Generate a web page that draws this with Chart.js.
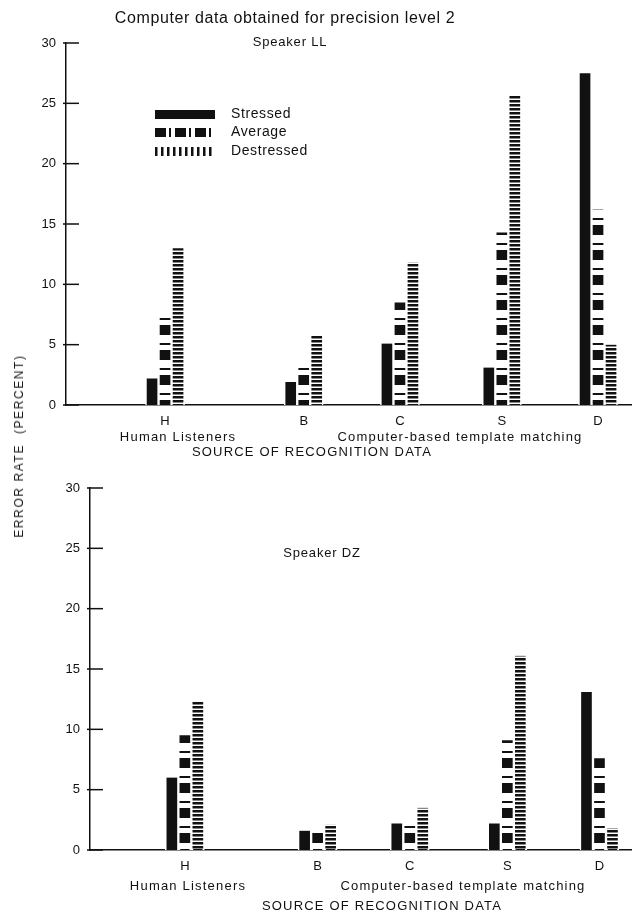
<!DOCTYPE html>
<html>
<head>
<meta charset="utf-8">
<script src="https://cdn.jsdelivr.net/npm/chart.js@4.4.1/dist/chart.umd.min.js"></script>
<style>
  html, body { margin: 0; padding: 0; background: #fff; }
  #page { position: relative; width: 632px; height: 916px; overflow: hidden; }
  .panel { position: absolute; left: 0; width: 632px; height: 458px; }
  #top { top: 0; }
  #bottom { top: 458px; }
  #ylabel {
    position: absolute; left: 19px; top: 446px;
    transform: translate(-50%, -50%) rotate(-90deg);
    font: 12px "Liberation Sans", Arial, sans-serif;
    letter-spacing: 1.6px; color: #1a1a1a; white-space: nowrap;
  }
</style>
</head>
<body>
<div id="page">
  <div class="panel" id="top"><canvas id="chartLL" width="632" height="458"></canvas></div>
  <div class="panel" id="bottom"><canvas id="chartDZ" width="632" height="458"></canvas></div>
  <div id="ylabel">ERROR RATE &nbsp;(PERCENT)</div>
</div>
<script>
// recognition data sources, and where they sit along the x axis (0-100)
var groups = ["H", "B", "C", "S", "D"];
var groupPos = [17.5, 42, 59, 77, 94];
var seriesNames = ["Stressed", "Average", "Destressed"];
var yTicks = [0, 5, 10, 15, 20, 25, 30];

// Speaker LL
var llStressed = [2.2, 1.9, 5.1, 3.1, 27.5];
var llAverage = [7.8, 3.6, 8.5, 14.3, 16.2];
var llDestressed = [13.0, 5.8, 11.8, 25.6, 5.0];

// Speaker DZ
var dzStressed = [6.0, 1.6, 2.2, 2.2, 13.1];
var dzAverage = [9.5, 1.8, 2.4, 9.1, 7.6];
var dzDestressed = [12.3, 2.1, 3.5, 16.1, 1.8];

var ink = "#111";
var font = "'Liberation Sans', Arial, sans-serif";

function tile(w, h, paint) {
  var c = document.createElement("canvas");
  c.width = w; c.height = h;
  var g = c.getContext("2d");
  g.fillStyle = ink;
  paint(g, w, h);
  return c;
}

// bar fills
var scratch = document.createElement("canvas").getContext("2d");
var averageFill = scratch.createPattern(tile(4, 25, function(g) {
  g.fillRect(0, 0, 4, 10);
  g.fillRect(0, 18, 4, 2);
}), "repeat");
var destressedFill = scratch.createPattern(tile(4, 4, function(g) {
  g.fillRect(0, 0, 4, 2.5);
}), "repeat");
var fills = [ink, averageFill, destressedFill];

// legend swatches (pattern turned sideways, as in the original)
var swatches = [
  tile(60, 9, function(g, w, h) { g.fillRect(0, 0, w, h); }),
  tile(60, 9, function(g, w, h) {
    for (var x = 0; x < w; x += 20) { g.fillRect(x, 0, 11, h); g.fillRect(x + 14, 0, 2, h); }
  }),
  tile(60, 9, function(g, w, h) {
    for (var x = 0; x < w; x += 6) g.fillRect(x, 0, 2.5, h);
  })
];

var notes = {
  id: "notes",
  afterDraw: function(chart, args, opts) {
    var ctx = chart.ctx;
    ctx.save();
    ctx.fillStyle = ink;
    ctx.textBaseline = "middle";
    (opts.items || []).forEach(function(it) {
      ctx.font = it.font;
      ctx.textAlign = it.align || "center";
      ctx.letterSpacing = it.spacing || "0px";
      ctx.fillText(it.text, it.x, it.y);
    });
    ctx.restore();
  }
};

// short tick marks that cross the y axis line
var crossTicks = {
  id: "crossTicks",
  afterDraw: function(chart) {
    var y = chart.scales.y, ctx = chart.ctx, x0 = chart.chartArea.left;
    ctx.save();
    ctx.strokeStyle = ink;
    ctx.lineWidth = 1.5;
    y.ticks.forEach(function(t) {
      var py = y.getPixelForValue(t.value);
      ctx.beginPath();
      ctx.moveTo(x0 - 3, py);
      ctx.lineTo(x0 + 13, py);
      ctx.stroke();
    });
    ctx.restore();
  }
};

var patternLegend = {
  id: "patternLegend",
  afterDraw: function(chart, args, opts) {
    if (!opts.show) return;
    var ctx = chart.ctx;
    ctx.save();
    ctx.fillStyle = ink;
    ctx.font = "14px " + font;
    ctx.letterSpacing = "0.6px";
    ctx.textBaseline = "middle";
    ctx.textAlign = "left";
    chart.data.datasets.forEach(function(ds, i) {
      var cy = opts.y + i * 18.5;
      ctx.drawImage(swatches[i], opts.x, cy - 4.5);
      ctx.fillText(ds.label, opts.x + 76, cy);
    });
    ctx.restore();
  }
};

function bars(values, i) {
  return {
    label: seriesNames[i],
    data: values.map(function(v, k) { return { x: groupPos[k], y: v }; }),
    backgroundColor: fills[i],
    borderColor: "#fff",
    borderWidth: { left: 1.5, right: 1.5, top: 0, bottom: 0 },
    borderSkipped: false,
    barThickness: 13
  };
}

function panel(id, series, axisLeft, plotTop, plotBottom, legendOn, items) {
  return new Chart(document.getElementById(id), {
    type: "bar",
    data: { datasets: series.map(bars) },
    options: {
      responsive: false,
      animation: false,
      layout: { padding: { top: plotTop, left: 0, right: 0, bottom: 0 } },
      scales: {
        x: {
          type: "linear", min: 0, max: 100, offset: false,
          afterBuildTicks: function(s) { s.ticks = groupPos.map(function(v) { return { value: v }; }); },
          afterFit: function(s) { s.height = 458 - plotBottom; },
          grid: { display: false, drawTicks: false },
          border: { display: true, color: ink, width: 1.5 },
          ticks: {
            autoSkip: false, maxRotation: 0, padding: 9, color: ink,
            font: { family: font, size: 13 },
            callback: function(v, i) { return groups[i]; }
          }
        },
        y: {
          min: 0, max: 30,
          afterBuildTicks: function(s) { s.ticks = yTicks.map(function(v) { return { value: v }; }); },
          afterFit: function(s) { s.width = axisLeft; },
          grid: { display: false, drawTicks: false },
          border: { display: true, color: ink, width: 1.5 },
          ticks: { padding: 10, color: ink, font: { family: font, size: 13 } }
        }
      },
      plugins: {
        legend: { display: false },
        tooltip: { enabled: false },
        patternLegend: { show: legendOn, x: 155, y: 114 },
        notes: { items: items }
      }
    },
    plugins: [crossTicks, patternLegend, notes]
  });
}

var small = "13px " + font;

panel("chartLL", [llStressed, llAverage, llDestressed], 66, 43, 405, true, [
  { text: "Computer data obtained for precision level 2", x: 285, y: 19, font: "16px " + font, spacing: "0.6px" },
  { text: "Speaker LL", x: 290, y: 42, font: small, spacing: "0.8px" },
  { text: "Human Listeners", x: 178, y: 437, font: small, spacing: "1.2px" },
  { text: "Computer-based template matching", x: 460, y: 437, font: small, spacing: "1.2px" },
  { text: "SOURCE OF RECOGNITION DATA", x: 312, y: 452, font: small, spacing: "1.2px" }
]);

panel("chartDZ", [dzStressed, dzAverage, dzDestressed], 90, 30, 392, false, [
  { text: "Speaker DZ", x: 322, y: 95, font: small, spacing: "0.8px" },
  { text: "Human Listeners", x: 188, y: 428, font: small, spacing: "1.2px" },
  { text: "Computer-based template matching", x: 463, y: 428, font: small, spacing: "1.2px" },
  { text: "SOURCE OF RECOGNITION DATA", x: 382, y: 448, font: small, spacing: "1.2px" }
]);
</script>
</body>
</html>
